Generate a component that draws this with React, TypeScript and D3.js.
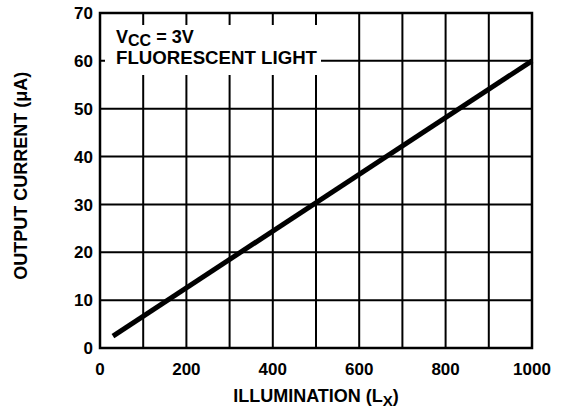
import React from 'react';
import * as d3 from 'd3';

const illumination = [30, 1000];
const outputCurrent = [2.5, 60];
const xTicks = [0, 200, 400, 600, 800, 1000];
const xGrid = [100, 200, 300, 400, 500, 600, 700, 800, 900];
const yTicks = [0, 10, 20, 30, 40, 50, 60, 70];

const W = 564;
const H = 411;
const margin = { top: 13, right: 32, bottom: 63, left: 100 };
const font = '"Liberation Sans", Arial, Helvetica, sans-serif';

export default function App() {
  const x = d3.scaleLinear().domain([0, 1000]).range([margin.left, W - margin.right]);
  const y = d3.scaleLinear().domain([0, 70]).range([H - margin.bottom, margin.top]);

  const line = d3.line<number>()
    .x((d) => x(d))
    .y((d, i) => y(outputCurrent[i]));

  return (
    <svg width={W} height={H} style={{ position: 'absolute', left: 0, top: 0 }} fontFamily={font}>
      <rect width={W} height={H} fill="#fff" />
      {xGrid.map((v) => (
        <line key={'vx' + v} x1={x(v)} x2={x(v)} y1={y(0)} y2={y(70)} stroke="#000" strokeWidth={2} />
      ))}
      {yTicks.slice(1, -1).map((v) => (
        <line key={'hy' + v} x1={x(0)} x2={x(1000)} y1={y(v)} y2={y(v)} stroke="#000" strokeWidth={2} />
      ))}
      <rect x={105} y={25} width={216} height={50} fill="#fff" />
      <rect x={x(0)} y={y(70)} width={x(1000) - x(0)} height={y(0) - y(70)} fill="none" stroke="#000" strokeWidth={2.5} />
      <path d={line(illumination) ?? ''} fill="none" stroke="#000" strokeWidth={5} />

      <text x={116} y={43} fontSize={18} fontWeight="bold">
        V<tspan fontSize={16} dy={3}>CC</tspan><tspan dy={-3}> = 3V</tspan>
      </text>
      <text x={116} y={64} fontSize={18} fontWeight="bold" textLength={201} lengthAdjust="spacingAndGlyphs">FLUORESCENT LIGHT</text>

      {yTicks.map((v) => (
        <text key={'yt' + v} x={93} y={y(v)} dy="0.36em" textAnchor="end" fontSize={17} fontWeight="bold">{v}</text>
      ))}
      {xTicks.map((v) => (
        <text key={'xt' + v} x={x(v)} y={375} textAnchor="middle" fontSize={17} fontWeight="bold">{v}</text>
      ))}
      <text x={316} y={402} textAnchor="middle" fontSize={18} fontWeight="bold">
        ILLUMINATION (L<tspan fontSize={15} dy={4}>X</tspan><tspan dy={-4}>)</tspan>
      </text>
      <text transform={`translate(27, ${y(36)}) rotate(-90)`} textAnchor="middle" fontSize={18} fontWeight="bold">
        OUTPUT CURRENT (μA)
      </text>
    </svg>
  );
}
